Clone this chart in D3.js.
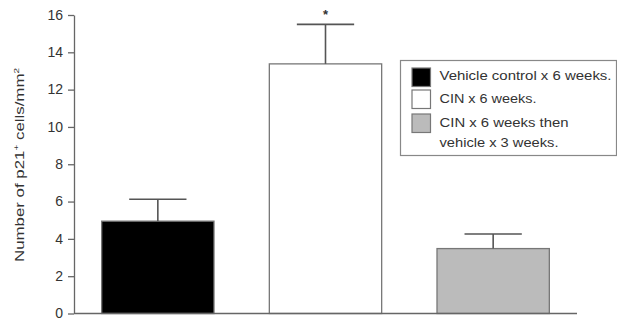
<!DOCTYPE html>
<html>
<head>
<meta charset="utf-8">
<script src="https://cdn.jsdelivr.net/npm/d3@7"></script>
<style>
  html, body { margin: 0; padding: 0; background: #fff; }
  svg text { font-family: "Liberation Sans", Arial, sans-serif; fill: #333; }
</style>
</head>
<body>
<svg id="chart" width="617" height="320"></svg>
<script>
// Groups, means and SEM (cells/mm²)
const groups = ["Vehicle control x 6 weeks.", "CIN x 6 weeks.", "CIN x 6 weeks then vehicle x 3 weeks."];
const legendLines = [["Vehicle control x 6 weeks."], ["CIN x 6 weeks."], ["CIN x 6 weeks then", "vehicle x 3 weeks."]];
const means = [4.95, 13.38, 3.48];
const errors = [1.17, 2.12, 0.78];
const significant = [false, true, false];
const fills = ["#000000", "#ffffff", "#bbbbbb"];
const yTicks = [0, 2, 4, 6, 8, 10, 12, 14, 16];

const svg = d3.select("#chart");
const margin = { left: 74, right: 40, top: 15, bottom: 6.5 };
const W = 617, H = 320;
const axisColor = "#666";

const x = d3.scaleBand().domain(groups).range([margin.left, 577]).paddingInner(0.33).paddingOuter(0.165);
const y = d3.scaleLinear().domain([0, 16]).range([H - margin.bottom, margin.top]);

// Bars
svg.append("g").selectAll("rect").data(groups).join("rect")
  .attr("x", d => x(d))
  .attr("y", (d, i) => y(means[i]))
  .attr("width", x.bandwidth())
  .attr("height", (d, i) => y(0) - y(means[i]))
  .attr("fill", (d, i) => fills[i])
  .attr("stroke", "#777")
  .attr("stroke-width", 1.3);

// Error bars (upper only)
const eb = svg.append("g").attr("stroke", "#555").attr("stroke-width", 1.6);
groups.forEach((g, i) => {
  const cx = x(g) + x.bandwidth() / 2;
  const capHalf = x.bandwidth() * 0.255;
  eb.append("line").attr("x1", cx).attr("x2", cx).attr("y1", y(means[i])).attr("y2", y(means[i] + errors[i]));
  eb.append("line").attr("x1", cx - capHalf).attr("x2", cx + capHalf)
    .attr("y1", y(means[i] + errors[i])).attr("y2", y(means[i] + errors[i]));
  if (significant[i]) {
    svg.append("text").attr("x", cx).attr("y", y(means[i] + errors[i]) - 5)
      .attr("text-anchor", "middle").attr("font-size", 13).attr("font-weight", "bold").text("*");
  }
});

// Y axis
const yAxis = svg.append("g").attr("transform", `translate(${margin.left},0)`)
  .call(d3.axisLeft(y).tickValues(yTicks).tickSize(6).tickPadding(5).tickSizeOuter(0));
yAxis.select(".domain").attr("stroke", axisColor).attr("stroke-width", 1.3);
yAxis.selectAll(".tick line").attr("stroke", axisColor).attr("stroke-width", 1.3);
yAxis.selectAll(".tick text").attr("font-size", 14).attr("dy", "0.3em").attr("fill", "#333")
  .attr("font-family", "Liberation Sans, Arial, sans-serif");

// X axis baseline
svg.append("line").attr("x1", margin.left).attr("x2", 577).attr("y1", y(0)).attr("y2", y(0))
  .attr("stroke", axisColor).attr("stroke-width", 1.3);

// Y axis title
const title = svg.append("text")
  .attr("transform", `translate(23.5,165) rotate(-90)`)
  .attr("text-anchor", "middle").attr("font-size", 13.5)
  .attr("textLength", 194).attr("lengthAdjust", "spacingAndGlyphs");
title.append("tspan").text("Number of p21");
title.append("tspan").attr("dy", -5).attr("font-size", 8).text("+");
title.append("tspan").attr("dy", 5).text(" cells/mm");
title.append("tspan").attr("dy", -5).attr("font-size", 8).text("2");

// Legend (wide lettering: each line set to its own width)
const lineWidths = [[172], [97], [129, 119]];
const lg = svg.append("g");
lg.append("rect").attr("x", 400.5).attr("y", 60.5).attr("width", 216).attr("height", 95)
  .attr("fill", "#fff").attr("stroke", "#888").attr("stroke-width", 1.2);
const swatchY = [68, 90, 114];
const baseY = [80, 103, 126.5];
legendLines.forEach((lines, i) => {
  lg.append("rect").attr("x", 412).attr("y", swatchY[i]).attr("width", 18.5).attr("height", 18.5)
    .attr("fill", fills[i]).attr("stroke", "#777").attr("stroke-width", 1.2);
  lines.forEach((t, j) => {
    lg.append("text").attr("x", 439.5).attr("y", baseY[i] + j * 20.7)
      .attr("font-size", 12)
      .attr("textLength", lineWidths[i][j]).attr("lengthAdjust", "spacingAndGlyphs")
      .text(t);
  });
});
</script>
</body>
</html>
